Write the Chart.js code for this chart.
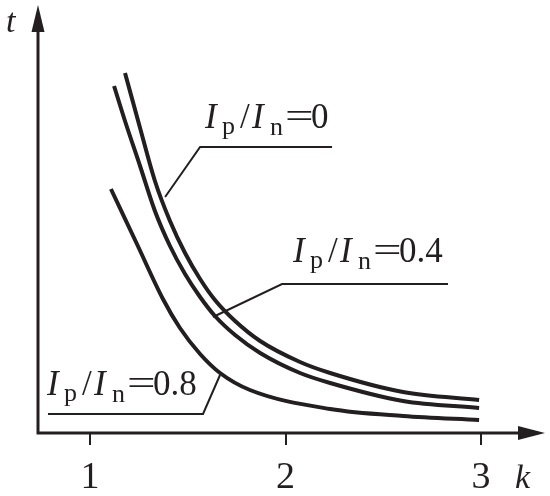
<!DOCTYPE html>
<html>
<head>
<meta charset="utf-8">
<script src="https://cdn.jsdelivr.net/npm/chart.js@4/dist/chart.umd.min.js"></script>
<style>
  html, body { margin: 0; padding: 0; background: #ffffff; }
</style>
</head>
<body>
<canvas id="chart" width="550" height="496"></canvas>
<script>
// tick labels on the k axis
const kTicks = [1, 2, 3];

// Ip/In = 0 (outer curve)
const kZero = [1.179, 1.256, 1.332, 1.409, 1.486, 1.563, 1.639, 1.742, 1.870, 2.074, 2.228, 2.601, 2.99];
const tZero = [9.00, 7.625, 6.30, 5.30, 4.50, 3.85, 3.325, 2.80, 2.30, 1.775, 1.50, 1.025, 0.825];

// Ip/In = 0.4 (middle curve)
const kMid = [1.123, 1.179, 1.256, 1.332, 1.409, 1.486, 1.563, 1.639, 1.742, 1.870, 2.074, 2.228, 2.601, 2.99];
const tMid = [8.675, 7.80, 6.675, 5.55, 4.675, 3.975, 3.40, 2.925, 2.45, 2.00, 1.50, 1.25, 0.80, 0.625];

// Ip/In = 0.8 (lower curve)
const kLow = [1.107, 1.240, 1.373, 1.460, 1.563, 1.665, 1.818, 2.228, 2.601, 2.99];
const tLow = [6.10, 4.725, 3.35, 2.625, 1.975, 1.50, 1.075, 0.60, 0.425, 0.325];

const ratioNames = ['0', '0.4', '0.8'];

const ink = '#231f20';

// label text anchor and leader polyline, in data units
const callouts = [
    { text: ratioNames[0], at: [1.588, 7.625], leader: [[2.238, 7.15], [1.563, 7.15], [1.384, 5.9]] },
    { text: ratioNames[1], at: [2.038, 4.275], leader: [[2.831, 3.725], [1.982, 3.725], [1.629, 2.9]] },
    { text: ratioNames[2], at: [0.780, 0.95], leader: [[0.785, 0.475], [1.578, 0.475], [1.665, 1.45]] }
];

const toPoints = (ks, ts) => ks.map((k, i) => ({ x: k, y: ts[i] }));

const serif = '"Liberation Serif", "DejaVu Serif", serif';

function drawRatio(ctx, x, y, value) {
    ctx.textBaseline = 'alphabetic';
    ctx.textAlign = 'left';
    ctx.font = 'italic 35px ' + serif;
    ctx.fillText('I', x, y);
    ctx.fillText('I', x + 47, y);
    ctx.font = '26px ' + serif;
    ctx.fillText('p', x + 17, y + 6);
    ctx.fillText('n', x + 65, y + 7);
    ctx.font = '35px ' + serif;
    ctx.fillText('/', x + 35, y);
    ctx.save();
    ctx.translate(x + 80, y);
    ctx.scale(1.45, 1);
    ctx.fillText('=', 0, 0);
    ctx.restore();
    ctx.fillText(value, x + 106, y);
}

const decor = {
    id: 'decor',
    afterDraw(chart) {
        const ctx = chart.ctx;
        const a = chart.chartArea;
        const xs = chart.scales.x;
        const ys = chart.scales.y;
        ctx.save();
        ctx.strokeStyle = ink;
        ctx.fillStyle = ink;

        // axes with arrowheads
        ctx.lineWidth = 3;
        ctx.beginPath();
        ctx.moveTo(a.left, a.top + 20);
        ctx.lineTo(a.left, a.bottom);
        ctx.lineTo(a.right - 20, a.bottom);
        ctx.stroke();
        ctx.beginPath();
        ctx.moveTo(a.left, a.top);
        ctx.lineTo(a.left - 6.5, a.top + 27);
        ctx.lineTo(a.left + 6.5, a.top + 27);
        ctx.closePath();
        ctx.fill();
        ctx.beginPath();
        ctx.moveTo(a.right, a.bottom);
        ctx.lineTo(a.right - 27, a.bottom - 7);
        ctx.lineTo(a.right - 27, a.bottom + 7);
        ctx.closePath();
        ctx.fill();

        // axis names
        ctx.font = 'italic 34px ' + serif;
        ctx.textBaseline = 'alphabetic';
        ctx.fillText('t', 6, 32);
        ctx.fillText('k', 515, 488);

        // callouts
        ctx.lineWidth = 2;
        callouts.forEach(c => {
            ctx.beginPath();
            c.leader.forEach(([k, t], i) => {
                const px = xs.getPixelForValue(k);
                const py = ys.getPixelForValue(t);
                if (i === 0) ctx.moveTo(px, py); else ctx.lineTo(px, py);
            });
            ctx.stroke();
            drawRatio(ctx, xs.getPixelForValue(c.at[0]), ys.getPixelForValue(c.at[1]), c.text);
        });
        ctx.restore();
    }
};

const curve = (label, ks, ts) => ({
    label: label,
    data: toPoints(ks, ts),
    borderColor: ink,
    borderWidth: 4,
    pointRadius: 0,
    fill: false,
    cubicInterpolationMode: 'monotone',
    borderCapStyle: 'butt'
});

new Chart(document.getElementById('chart').getContext('2d'), {
    type: 'line',
    data: {
        datasets: [
            curve('Ip/In=0', kZero, tZero),
            curve('Ip/In=0.4', kMid, tMid),
            curve('Ip/In=0.8', kLow, tLow)
        ]
    },
    options: {
        responsive: false,
        animation: false,
        layout: { padding: { top: 5, right: 5, left: 0, bottom: 0 } },
        plugins: { legend: { display: false }, tooltip: { enabled: false } },
        scales: {
            x: {
                type: 'linear',
                min: 0.734,
                max: 3.327,
                afterBuildTicks: (scale) => { scale.ticks = kTicks.map(v => ({ value: v })); },
                afterFit: (scale) => { scale.height = 63; },
                border: { display: false },
                grid: { drawOnChartArea: false, drawTicks: true, tickLength: 12, color: ink, lineWidth: 2 },
                ticks: { color: ink, font: { family: serif, size: 38 }, padding: 10, maxRotation: 0 }
            },
            y: {
                type: 'linear',
                min: 0,
                max: 10.7,
                afterFit: (scale) => { scale.width = 38; },
                border: { display: false },
                grid: { display: false },
                ticks: { display: false }
            }
        }
    },
    plugins: [decor]
});
</script>
</body>
</html>
